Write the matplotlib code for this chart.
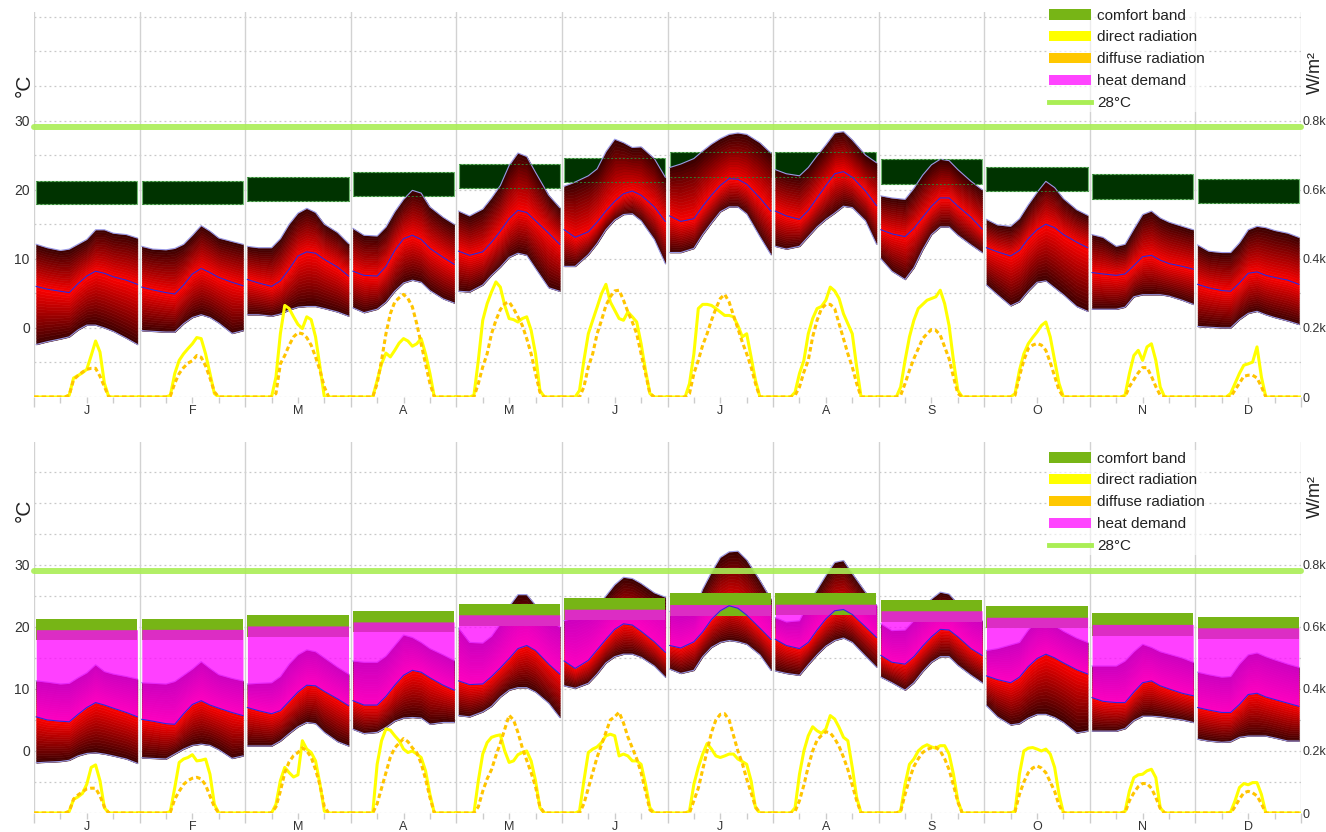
import numpy as np
import matplotlib.pyplot as plt
from matplotlib.colors import to_rgb
from matplotlib.patches import Patch
from matplotlib.lines import Line2D

plt.rcParams['font.family'] = ['Liberation Sans', 'DejaVu Sans']

MONTHS = ['J', 'F', 'M', 'A', 'M', 'J', 'J', 'A', 'S', 'O', 'N', 'D']
TEMP_HOURS = [0.5, 3, 6, 8, 10, 12, 14, 16, 18, 21, 23.5]
RAD_HOURS = list(range(25))

# comfort band per month (degC)
comfort_lo = [17.9, 17.9, 18.4, 19.1, 20.2, 21.1, 21.8, 21.9, 20.8, 19.8, 18.6, 18.1]
comfort_hi = [21.2, 21.3, 21.9, 22.5, 23.7, 24.6, 25.4, 25.4, 24.4, 23.3, 22.2, 21.6]
hot_line = 29.0

# ---- top panel: outdoor temperature (daily profile per month) ----
top_tmax = [
    [12.1, 11.6, 11.2, 11.4, 12.1, 12.8, 14.2, 14.2, 13.7, 13.5, 13.0],
    [11.8, 11.4, 11.3, 11.5, 12.1, 13.4, 14.8, 14.0, 13.0, 12.5, 12.1],
    [11.8, 11.6, 11.6, 12.9, 15.0, 16.6, 17.3, 16.7, 15.0, 13.8, 12.2],
    [14.4, 13.4, 13.3, 14.6, 16.8, 18.6, 19.9, 19.5, 17.5, 16.0, 15.0],
    [16.9, 16.2, 17.2, 18.8, 20.6, 23.5, 25.3, 24.8, 22.5, 19.2, 17.4],
    [20.5, 21.1, 22.0, 23.0, 25.5, 27.3, 26.8, 26.1, 26.2, 24.5, 21.8],
    [23.2, 23.7, 24.5, 25.6, 26.6, 27.4, 28.0, 28.2, 28.0, 26.8, 25.3],
    [22.9, 22.3, 22.0, 23.2, 24.9, 26.5, 28.2, 28.4, 27.2, 25.0, 23.9],
    [19.1, 18.8, 18.6, 20.2, 22.1, 23.6, 24.4, 24.2, 22.9, 21.2, 20.0],
    [15.7, 14.9, 14.7, 15.8, 17.8, 19.6, 21.2, 20.3, 18.7, 17.1, 16.3],
    [13.5, 13.1, 11.8, 12.1, 14.3, 16.4, 16.9, 15.9, 15.3, 14.7, 14.2],
    [12.0, 11.1, 10.9, 10.9, 12.3, 14.2, 14.7, 14.5, 14.1, 13.7, 13.1],
]
top_tmean = [
    [6.0, 5.6, 5.3, 5.1, 6.4, 7.5, 8.2, 7.9, 7.4, 6.9, 6.3],
    [5.9, 5.5, 5.1, 4.9, 6.2, 7.8, 8.6, 8.0, 7.3, 6.6, 6.1],
    [7.0, 6.5, 6.0, 6.8, 8.5, 10.4, 11.0, 10.8, 9.9, 8.8, 7.5],
    [8.2, 7.6, 7.5, 8.9, 11.2, 12.9, 13.4, 12.8, 11.5, 10.2, 9.2],
    [11.1, 10.5, 11.0, 12.4, 14.0, 15.8, 17.0, 16.7, 15.5, 13.7, 12.1],
    [14.2, 13.1, 13.9, 15.3, 16.9, 18.3, 19.4, 19.8, 19.2, 17.5, 15.4],
    [16.2, 15.4, 15.8, 17.6, 19.2, 20.6, 21.6, 21.5, 20.8, 18.8, 16.9],
    [16.9, 16.2, 15.7, 17.0, 18.8, 20.6, 22.3, 22.6, 21.8, 19.8, 17.7],
    [14.2, 13.6, 13.2, 14.4, 16.0, 17.6, 18.8, 18.8, 17.6, 16.0, 14.3],
    [11.6, 11.0, 10.4, 11.2, 12.9, 14.2, 15.0, 14.5, 13.5, 12.4, 11.6],
    [8.0, 7.8, 7.6, 7.8, 9.0, 10.3, 10.5, 9.8, 9.3, 8.9, 8.5],
    [6.3, 5.8, 5.4, 5.3, 6.5, 7.9, 8.1, 7.6, 7.3, 6.9, 6.3],
]
top_tmin = [
    [-2.4, -2.0, -1.6, -1.3, -0.3, 0.4, 0.4, 0.0, -0.5, -1.5, -2.4],
    [-0.4, -0.5, -0.6, -0.6, 0.6, 1.5, 1.9, 1.5, 0.7, -0.8, -0.4],
    [1.9, 1.9, 1.7, 2.0, 2.6, 3.0, 3.1, 3.1, 2.8, 2.3, 1.7],
    [2.9, 2.2, 2.7, 3.7, 5.3, 6.5, 6.9, 6.6, 5.4, 4.2, 3.6],
    [5.3, 5.2, 6.2, 7.6, 8.8, 10.2, 10.8, 10.5, 8.6, 5.8, 5.3],
    [8.9, 8.9, 10.6, 12.2, 14.2, 15.6, 16.4, 16.5, 15.5, 12.8, 9.3],
    [10.9, 10.9, 11.5, 13.5, 15.2, 16.8, 17.5, 17.5, 16.5, 13.2, 10.6],
    [11.8, 11.4, 11.8, 13.2, 14.6, 15.7, 16.6, 17.6, 17.4, 15.5, 12.1],
    [10.0, 8.2, 7.0, 8.7, 11.3, 13.5, 14.6, 14.6, 13.4, 12.0, 10.9],
    [6.2, 4.8, 3.2, 3.8, 5.3, 6.6, 6.8, 5.8, 4.8, 3.1, 2.4],
    [2.7, 2.7, 2.7, 3.0, 4.5, 4.8, 4.8, 4.8, 4.6, 4.0, 3.4],
    [0.2, 0.1, 0.0, 0.0, 1.2, 2.1, 2.4, 1.9, 1.5, 1.0, 0.5],
]
# radiation W/m2, hours 0..24
top_direct = [
    [0, 0, 0, 0, 0, 0, 0, 0, 5, 55, 62, 70, 80, 120, 162, 130, 40, 0, 0, 0, 0, 0, 0, 0, 0],
    [0, 0, 0, 0, 0, 0, 0, 5, 68, 106, 125, 140, 154, 172, 169, 125, 68, 10, 0, 0, 0, 0, 0, 0, 0],
    [0, 0, 0, 0, 0, 0, 0, 58, 183, 265, 256, 232, 210, 198, 232, 224, 174, 87, 0, 0, 0, 0, 0, 0, 0],
    [0, 0, 0, 0, 0, 0, 48, 96, 127, 116, 135, 156, 169, 162, 147, 154, 169, 125, 68, 0, 0, 0, 0, 0, 0],
    [0, 0, 0, 0, 5, 106, 222, 270, 304, 333, 318, 265, 227, 224, 217, 227, 232, 193, 125, 19, 0, 0, 0, 0, 0],
    [0, 0, 0, 0, 19, 106, 183, 222, 260, 299, 326, 275, 251, 227, 222, 246, 232, 217, 154, 77, 10, 0, 0, 0, 0],
    [0, 0, 0, 0, 0, 39, 125, 256, 268, 268, 265, 256, 246, 236, 236, 232, 207, 174, 183, 116, 48, 0, 0, 0, 0],
    [0, 0, 0, 0, 0, 14, 68, 106, 183, 227, 256, 262, 280, 318, 307, 285, 241, 212, 183, 87, 0, 0, 0, 0, 0],
    [0, 0, 0, 0, 0, 29, 106, 174, 222, 256, 268, 280, 285, 290, 309, 270, 207, 106, 19, 0, 0, 0, 0, 0, 0],
    [0, 0, 0, 0, 0, 0, 0, 10, 77, 125, 154, 172, 188, 207, 217, 174, 106, 39, 0, 0, 0, 0, 0, 0, 0],
    [0, 0, 0, 0, 0, 0, 0, 0, 5, 68, 120, 135, 106, 145, 154, 106, 29, 0, 0, 0, 0, 0, 0, 0, 0],
    [0, 0, 0, 0, 0, 0, 0, 0, 10, 39, 68, 92, 96, 101, 145, 58, 0, 0, 0, 0, 0, 0, 0, 0, 0],
]
top_diffuse = [
    [0, 0, 0, 0, 0, 0, 0, 0, 5, 50, 62, 72, 80, 83, 83, 60, 30, 0, 0, 0, 0, 0, 0, 0, 0],
    [0, 0, 0, 0, 0, 0, 0, 3, 40, 68, 85, 98, 105, 120, 115, 90, 55, 15, 0, 0, 0, 0, 0, 0, 0],
    [0, 0, 0, 0, 0, 0, 0, 10, 96, 120, 150, 174, 186, 183, 172, 150, 116, 77, 29, 0, 0, 0, 0, 0, 0],
    [0, 0, 0, 0, 0, 0, 39, 106, 183, 241, 275, 287, 297, 285, 261, 212, 154, 96, 39, 0, 0, 0, 0, 0, 0],
    [0, 0, 0, 0, 0, 39, 87, 125, 183, 222, 253, 270, 275, 256, 232, 207, 169, 125, 68, 14, 0, 0, 0, 0, 0],
    [0, 0, 0, 0, 0, 29, 87, 125, 183, 222, 265, 290, 307, 309, 280, 246, 217, 183, 125, 68, 10, 0, 0, 0, 0],
    [0, 0, 0, 0, 0, 10, 68, 106, 150, 183, 222, 256, 285, 297, 275, 236, 198, 159, 125, 87, 39, 0, 0, 0, 0],
    [0, 0, 0, 0, 0, 5, 29, 72, 106, 174, 222, 256, 268, 268, 256, 212, 169, 125, 87, 39, 0, 0, 0, 0, 0],
    [0, 0, 0, 0, 0, 5, 39, 77, 111, 140, 169, 183, 195, 193, 179, 145, 111, 58, 10, 0, 0, 0, 0, 0, 0],
    [0, 0, 0, 0, 0, 0, 0, 5, 60, 106, 140, 150, 155, 150, 135, 100, 60, 20, 0, 0, 0, 0, 0, 0, 0],
    [0, 0, 0, 0, 0, 0, 0, 0, 0, 30, 50, 70, 85, 85, 60, 30, 5, 0, 0, 0, 0, 0, 0, 0, 0],
    [0, 0, 0, 0, 0, 0, 0, 0, 0, 20, 40, 60, 63, 63, 55, 30, 0, 0, 0, 0, 0, 0, 0, 0, 0],
]

# ---- bottom panel ----
bot_tmax = [
    [11.3, 11.1, 10.8, 10.9, 11.8, 12.6, 13.9, 12.8, 12.4, 12.0, 11.6],
    [11.0, 10.9, 10.8, 11.2, 12.2, 13.2, 14.4, 13.3, 12.3, 11.7, 11.3],
    [10.8, 10.9, 11.0, 12.0, 14.0, 15.5, 16.3, 16.0, 15.0, 13.5, 12.4],
    [14.5, 14.3, 14.3, 15.3, 17.0, 18.7, 18.3, 17.5, 16.5, 15.5, 14.6],
    [19.8, 17.5, 17.4, 18.5, 20.5, 23.3, 25.2, 25.2, 23.5, 21.0, 20.0],
    [21.0, 21.5, 22.3, 23.2, 25.0, 26.8, 28.0, 27.8, 27.0, 25.5, 24.8],
    [22.5, 22.0, 22.5, 26.1, 28.8, 31.2, 32.1, 32.2, 30.8, 27.5, 24.5],
    [21.5, 20.8, 21.0, 23.8, 26.0, 28.3, 30.4, 30.7, 28.6, 25.6, 23.5],
    [20.5, 19.4, 19.5, 21.0, 22.9, 24.5, 25.6, 25.3, 23.7, 21.8, 21.0],
    [16.2, 16.5, 17.1, 17.5, 19.5, 21.0, 21.0, 20.2, 19.3, 18.2, 17.5],
    [13.7, 13.7, 13.7, 14.5, 16.0, 17.2, 16.7, 16.0, 15.6, 15.0, 14.3],
    [12.7, 12.3, 11.9, 12.0, 14.0, 15.5, 15.8, 15.2, 14.7, 14.0, 13.5],
]
bot_tmean = [
    [5.5, 5.0, 4.8, 4.7, 5.9, 7.0, 7.8, 7.4, 6.9, 6.2, 5.5],
    [5.1, 4.8, 4.4, 4.3, 6.0, 7.5, 8.1, 7.4, 6.9, 6.2, 5.7],
    [7.0, 6.5, 6.0, 6.5, 8.0, 9.5, 10.6, 10.5, 9.6, 8.4, 7.3],
    [8.1, 7.4, 7.4, 8.8, 10.6, 12.2, 13.0, 12.7, 11.8, 10.6, 9.8],
    [11.3, 10.7, 10.8, 12.0, 13.4, 14.9, 16.5, 17.0, 16.2, 14.0, 12.4],
    [14.5, 13.3, 14.6, 16.3, 18.0, 19.6, 20.5, 20.3, 19.3, 17.6, 15.9],
    [17.0, 16.6, 17.6, 19.2, 21.2, 22.6, 23.4, 23.0, 21.9, 19.8, 18.0],
    [18.0, 17.0, 16.5, 17.5, 19.5, 21.3, 22.6, 22.8, 22.0, 20.0, 18.3],
    [15.4, 14.3, 14.0, 15.2, 16.9, 18.4, 19.6, 19.5, 18.4, 16.5, 15.4],
    [12.1, 11.5, 11.0, 11.9, 13.6, 14.9, 15.6, 15.0, 14.2, 13.1, 12.4],
    [8.6, 8.0, 7.8, 7.8, 9.5, 11.0, 11.3, 10.5, 10.0, 9.3, 8.9],
    [7.0, 6.6, 6.2, 6.2, 7.5, 9.1, 9.3, 8.7, 8.3, 7.7, 7.2],
]
bot_tmin = [
    [-1.9, -1.8, -1.7, -1.5, -0.8, -0.4, -0.3, -0.5, -0.8, -1.3, -2.0],
    [-1.1, -1.2, -1.3, -0.5, 0.3, 0.9, 1.1, 0.9, 0.2, -1.2, -0.8],
    [0.8, 0.8, 0.8, 1.6, 2.8, 3.9, 4.6, 4.4, 3.0, 1.5, 0.8],
    [3.5, 2.8, 3.0, 3.8, 4.8, 5.3, 5.4, 5.3, 4.3, 4.6, 4.6],
    [5.7, 5.5, 6.3, 7.2, 8.7, 9.8, 10.2, 10.2, 9.5, 7.7, 5.4],
    [10.5, 10.1, 10.9, 12.4, 14.2, 15.2, 15.6, 15.6, 15.1, 13.7, 11.9],
    [13.2, 12.5, 13.0, 15.2, 16.7, 17.5, 17.8, 17.6, 17.2, 15.5, 13.0],
    [12.9, 12.5, 12.2, 13.9, 15.5, 16.9, 17.8, 18.2, 17.5, 15.3, 13.5],
    [11.9, 11.0, 9.8, 11.0, 12.8, 14.3, 15.2, 15.2, 13.8, 12.2, 11.0],
    [7.3, 5.5, 4.2, 4.4, 5.3, 5.9, 5.9, 5.4, 4.6, 2.9, 3.2],
    [3.2, 3.2, 3.2, 3.6, 4.9, 5.6, 5.6, 5.5, 5.3, 5.0, 4.6],
    [1.9, 1.6, 1.4, 1.5, 2.2, 2.4, 2.4, 2.4, 2.1, 1.6, 1.6],
]
bot_direct = [
    [0, 0, 0, 0, 0, 0, 0, 0, 5, 44, 52, 63, 93, 147, 155, 104, 17, 0, 0, 0, 0, 0, 0, 0, 0],
    [0, 0, 0, 0, 0, 0, 0, 5, 82, 163, 174, 179, 188, 168, 170, 174, 125, 28, 0, 0, 0, 0, 0, 0, 0],
    [0, 0, 0, 0, 0, 0, 0, 28, 104, 147, 130, 116, 123, 233, 206, 195, 168, 93, 6, 0, 0, 0, 0, 0, 0],
    [0, 0, 0, 0, 0, 0, 157, 233, 271, 267, 249, 233, 206, 195, 200, 190, 179, 136, 60, 0, 0, 0, 0, 0, 0],
    [0, 0, 0, 0, 0, 104, 190, 227, 244, 249, 252, 200, 163, 168, 188, 195, 200, 168, 104, 17, 0, 0, 0, 0, 0],
    [0, 0, 0, 0, 6, 104, 195, 206, 213, 227, 249, 254, 249, 184, 190, 184, 168, 168, 157, 93, 17, 0, 0, 0, 0],
    [0, 0, 0, 0, 0, 6, 93, 147, 190, 224, 206, 184, 179, 184, 190, 190, 174, 166, 157, 104, 17, 0, 0, 0, 0],
    [0, 0, 0, 0, 0, 17, 125, 200, 249, 278, 265, 257, 271, 314, 303, 276, 244, 233, 147, 50, 0, 0, 0, 0, 0],
    [0, 0, 0, 0, 0, 6, 93, 157, 174, 200, 213, 220, 213, 209, 217, 217, 190, 125, 39, 0, 0, 0, 0, 0, 0],
    [0, 0, 0, 0, 0, 0, 0, 6, 125, 200, 209, 211, 206, 200, 206, 190, 147, 60, 0, 0, 0, 0, 0, 0, 0],
    [0, 0, 0, 0, 0, 0, 0, 0, 5, 71, 114, 123, 125, 136, 141, 114, 17, 0, 0, 0, 0, 0, 0, 0, 0],
    [0, 0, 0, 0, 0, 0, 0, 0, 3, 39, 82, 95, 91, 98, 98, 60, 0, 0, 0, 0, 0, 0, 0, 0, 0],
]
bot_diffuse = [
    [0, 0, 0, 0, 0, 0, 0, 0, 5, 45, 58, 68, 78, 80, 80, 55, 20, 0, 0, 0, 0, 0, 0, 0, 0],
    [0, 0, 0, 0, 0, 0, 0, 3, 45, 70, 92, 105, 112, 115, 110, 90, 55, 20, 0, 0, 0, 0, 0, 0, 0],
    [0, 0, 0, 0, 0, 0, 0, 20, 70, 130, 165, 185, 195, 210, 200, 180, 140, 90, 20, 0, 0, 0, 0, 0, 0],
    [0, 0, 0, 0, 0, 0, 30, 80, 130, 180, 210, 225, 240, 230, 210, 195, 160, 110, 50, 0, 0, 0, 0, 0, 0],
    [0, 0, 0, 0, 0, 20, 70, 110, 140, 185, 225, 270, 315, 300, 260, 210, 170, 130, 85, 20, 0, 0, 0, 0, 0],
    [0, 0, 0, 0, 0, 30, 80, 130, 180, 220, 260, 300, 310, 325, 290, 245, 210, 175, 130, 70, 10, 0, 0, 0, 0],
    [0, 0, 0, 0, 0, 0, 40, 80, 140, 200, 260, 300, 318, 320, 300, 250, 200, 160, 110, 65, 20, 0, 0, 0, 0],
    [0, 0, 0, 0, 0, 5, 40, 90, 150, 200, 235, 250, 262, 258, 240, 215, 180, 140, 90, 40, 0, 0, 0, 0, 0],
    [0, 0, 0, 0, 0, 5, 60, 110, 150, 175, 195, 205, 210, 212, 200, 175, 140, 90, 35, 0, 0, 0, 0, 0, 0],
    [0, 0, 0, 0, 0, 0, 0, 5, 60, 100, 130, 145, 152, 145, 130, 100, 70, 25, 0, 0, 0, 0, 0, 0, 0],
    [0, 0, 0, 0, 0, 0, 0, 0, 0, 40, 65, 85, 95, 95, 80, 50, 15, 0, 0, 0, 0, 0, 0, 0, 0],
    [0, 0, 0, 0, 0, 0, 0, 0, 0, 20, 45, 65, 70, 65, 55, 30, 0, 0, 0, 0, 0, 0, 0, 0, 0],
]

N_BANDS = 18
DARK = np.array(to_rgb('#380000'))
RED = np.array(to_rgb('#ff0000'))


def gradient_band(ax, x, lo, mid, hi, z):
    # lower half: dark at min -> red at mean, upper half: red -> dark at max
    for k in range(N_BANDS):
        t0, t1 = k / N_BANDS, (k + 1) / N_BANDS
        c = tuple(DARK + (RED - DARK) * (t0 + t1) / 2)
        ax.fill_between(x, lo + (mid - lo) * t0, lo + (mid - lo) * t1,
                        color=c, lw=0.4, zorder=z)
        c = tuple(RED + (DARK - RED) * (t0 + t1) / 2)
        ax.fill_between(x, mid + (hi - mid) * t0, mid + (hi - mid) * t1,
                        color=c, lw=0.4, zorder=z)
    ax.plot(x, hi, color='#9a9ae6', lw=0.8, zorder=z + 0.1)
    ax.plot(x, lo, color='#9a9ae6', lw=0.8, zorder=z + 0.1)


def draw_panel(ax, tmin, tmean, tmax, direct, diffuse, ytop, heat):
    ax.set_xlim(0, 288)
    ax.set_ylim(-10, ytop)
    for s in ax.spines.values():
        s.set_visible(False)
    for v in np.arange(-10, ytop, 5):
        ax.axhline(v, color='#c8c8c8', lw=0.9, ls=(0, (1.5, 2.5)), zorder=0)

    ax.set_xticks(np.arange(0, 289, 24))
    ax.set_xticklabels([])
    ax.grid(axis='x', which='major', color='#d2d2d2', lw=1.0, zorder=0)
    minor = []
    labels = []
    for m in range(12):
        minor += [m * 24 + 6, m * 24 + 12, m * 24 + 18]
        labels += ['', MONTHS[m], '']
    ax.set_xticks(minor, minor=True)
    ax.set_xticklabels(labels, minor=True)
    ax.tick_params(axis='x', which='major', length=7, color='#cccccc', width=1)
    ax.tick_params(axis='x', which='minor', length=4, color='#cccccc', width=1,
                   pad=2, labelsize=9, labelcolor='#333333')
    ax.set_yticks([0, 10, 20, 30])
    ax.tick_params(axis='y', length=0, pad=3, labelsize=10, labelcolor='#333333')

    for m in range(12):
        x = m * 24 + np.array(TEMP_HOURS)
        lo = np.array(tmin[m])
        mid = np.array(tmean[m])
        hi = np.array(tmax[m])
        x0, x1 = m * 24 + 0.5, m * 24 + 23.5
        clo, chi = comfort_lo[m], comfort_hi[m]
        if not heat:
            ax.fill_between([x0, x1], [clo, clo], [chi, chi], facecolor='#003300',
                            edgecolor='#6fb86f', lw=0.8, zorder=1.5)
            gradient_band(ax, x, lo, mid, hi, 2)
            ax.hlines([clo, chi], x0, x1, colors='#2f7a2f', linestyles=(0, (2, 2)),
                      lw=0.7, zorder=3)
        else:
            gradient_band(ax, x, lo, mid, hi, 2)
            ax.fill_between([x0, x1], [clo, clo], [chi, chi], facecolor='#77b516',
                            lw=0, zorder=3)
            setp = (clo + chi) / 2
            ax.fill_between(x, mid, setp, where=mid < setp, interpolate=True,
                            color='#ff00ff', alpha=0.75, lw=0, zorder=4)
        ax.plot(x, mid, color='#2a2ae0', lw=0.8, zorder=5)

    ax.plot([0, 288], [hot_line, hot_line], color='#aaee55', lw=4.3, alpha=0.9,
            solid_capstyle='round', zorder=6, clip_on=False)

    ax2 = ax.twinx()
    ax2.set_ylim(0, (ytop + 10) * 20)
    for s in ax2.spines.values():
        s.set_visible(False)
    ax2.set_yticks([0, 200, 400, 600, 800])
    ax2.set_yticklabels(['0', '0.2k', '0.4k', '0.6k', '0.8k'])
    ax2.tick_params(axis='y', length=0, pad=1, labelsize=9, labelcolor='#333333')
    for m in range(12):
        xr = m * 24 + np.array(RAD_HOURS)
        ax2.plot(xr, direct[m], color='#ffff00', lw=2.2)
        ax2.plot(xr, diffuse[m], color='#ffc400', lw=2.2, ls=(0, (1.5, 1.0)))
    return ax2


fig = plt.figure(figsize=(13.26, 8.32), dpi=100)
ax_top = fig.add_axes([34 / 1326, 1 - 397 / 832, 1267 / 1326, 385 / 832])
ax_bot = fig.add_axes([34 / 1326, 1 - 813 / 832, 1267 / 1326, 371 / 832])

t2 = draw_panel(ax_top, top_tmin, top_tmean, top_tmax, top_direct, top_diffuse, 45.7, False)
b2 = draw_panel(ax_bot, bot_tmin, bot_tmean, bot_tmax, bot_direct, bot_diffuse, 49.8, True)

handles = [
    Patch(facecolor='#77b516', label='comfort band'),
    Patch(facecolor='#ffff00', label='direct radiation'),
    Patch(facecolor='#ffc800', label='diffuse radiation'),
    Patch(facecolor='#ff44ff', label='heat demand'),
    Line2D([0], [0], color='#aaee55', lw=3.5, label='28°C'),
]
for axr, ytop_px in [(t2, 7), (b2, 450)]:
    axr.legend(handles=handles, loc='upper left',
               bbox_to_anchor=(1047 / 1326, 1 - ytop_px / 832),
               bbox_transform=fig.transFigure, fontsize=11, handlelength=2.8,
               handleheight=0.7, handletextpad=0.4, labelspacing=0.52,
               borderpad=0.1, borderaxespad=0, frameon=True, facecolor='white',
               edgecolor='none', framealpha=0.6, labelcolor='#222222')

for y in [85, 510]:
    fig.text(24 / 1326, 1 - y / 832, '°C', rotation=90, fontsize=15,
             ha='center', va='center', color='#222222')
for y in [72, 497]:
    fig.text(1315 / 1326, 1 - y / 832, 'W/m²', rotation=90, fontsize=13,
             ha='center', va='center', color='#222222')

fig.savefig('out.png', dpi=100)
